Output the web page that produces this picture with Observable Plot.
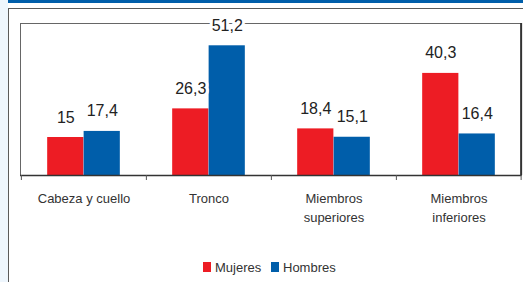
<!DOCTYPE html>
<html>
<head>
<meta charset="utf-8">
<script src="https://cdn.jsdelivr.net/npm/d3@7"></script>
<script src="https://cdn.jsdelivr.net/npm/@observablehq/plot@0.6"></script>
<style>
  html, body { margin: 0; padding: 0; background: white; }
  #wrap { position: relative; width: 523px; height: 282px; overflow: hidden; font-family: "Liberation Sans", Arial, Helvetica, sans-serif; background: white; }
  #strip { position: absolute; left: 0; top: 0; width: 8px; height: 282px; background: #eef6fd; }
  #band { position: absolute; left: 8px; top: 0; width: 515px; height: 3px; background: #005eaa; }
  #panel { position: absolute; left: 8px; top: 8px; width: 520px; height: 280px; border-left: 1.5px solid #5a5a5a; border-top: 1.5px solid #5a5a5a; }
  #chart { position: absolute; left: 0; top: 0; }
  #legend { position: absolute; left: 0; top: 259px; width: 523px; height: 16px; font-size: 13px; color: #333; }
  .item { position: absolute; top: 0; display: flex; align-items: center; height: 16px; }
  .sw { width: 8px; height: 10px; margin-right: 4px; display: inline-block; }
</style>
</head>
<body>
<div id="wrap">
  <div id="strip"></div>
  <div id="band"></div>
  <div id="panel"></div>
  <div id="chart"></div>
  <div id="legend"></div>
</div>
<script>
const categories = ["Cabeza y cuello", "Tronco", "Miembros superiores", "Miembros inferiores"];
const tickLabels = ["Cabeza y cuello", "Tronco", "Miembros\nsuperiores", "Miembros\ninferiores"];
const series = ["Mujeres", "Hombres"];
const colors = ["#ed1c24", "#005eaa"];
const mujeres = [15, 26.3, 18.4, 40.3];
const hombres = [17.4, 51.2, 15.1, 16.4];
const valueLabels = {
  Mujeres: ["15", "26,3", "18,4", "40,3"],
  Hombres: ["17,4", "51,2", "15,1", "16,4"]
};

const W = 523, H = 282;
const mL = 20, mR = 2, mT = 23, mB = 107;
const bw = (W - mL - mR) / categories.length;
const barW = bw * 0.291;

const rows = (vals, s) => vals.map((v, i) => ({cat: categories[i], value: v, series: s, label: valueLabels[s][i], tick: tickLabels[i]}));
const dM = rows(mujeres, "Mujeres");
const dH = rows(hombres, "Hombres");
const font = "Liberation Sans, Arial, Helvetica, sans-serif";

const chart = Plot.plot({
  width: W,
  height: H,
  marginLeft: mL,
  marginRight: mR,
  marginTop: mT,
  marginBottom: mB,
  style: {background: "transparent", fontFamily: font, overflow: "visible"},
  x: {domain: categories, padding: 0, axis: null},
  y: {domain: [0, 60], axis: null},
  marks: [
    Plot.frame({stroke: "#666", strokeWidth: 1}),
    Plot.barY(dM, {x: "cat", y: "value", fill: colors[0], insetLeft: bw / 2 - barW, insetRight: bw / 2}),
    Plot.barY(dH, {x: "cat", y: "value", fill: colors[1], insetLeft: bw / 2, insetRight: bw / 2 - barW}),
    Plot.ruleY([0], {stroke: "#333", strokeWidth: 1.5}),
    Plot.ruleX([categories[categories.length - 1]], {dx: bw / 2 - 0.5, stroke: "#333", strokeWidth: 2}),
    Plot.ruleX(categories, {y1: 0, y2: 0, insetBottom: -5, dx: -bw / 2, stroke: "#555", strokeWidth: 1}),
    Plot.ruleX([categories[categories.length - 1]], {y1: 0, y2: 0, insetBottom: -5, dx: bw / 2 - 0.5, stroke: "#555", strokeWidth: 1}),
    Plot.text(dM, {x: "cat", y: "value", text: "label", dx: -barW / 2, dy: -15, lineAnchor: "bottom", fontSize: 16, fill: "#222", stroke: "white", strokeWidth: 6}),
    Plot.text(dH, {x: "cat", y: "value", text: "label", dx: barW / 2, dy: -15, lineAnchor: "bottom", fontSize: 16, fill: "#222", stroke: "white", strokeWidth: 6}),
    Plot.text(dM, {x: "cat", y: 0, text: "tick", dy: 15, lineAnchor: "top", fontSize: 13, lineHeight: 1.4, fill: "#333"})
  ]
});
document.getElementById("chart").appendChild(chart);

// legend
const legend = document.getElementById("legend");
const lefts = [203, 271];
series.forEach((s, i) => {
  const item = document.createElement("div");
  item.className = "item";
  item.style.left = lefts[i] + "px";
  const sw = document.createElement("span");
  sw.className = "sw";
  sw.style.background = colors[i];
  const t = document.createElement("span");
  t.textContent = s;
  item.appendChild(sw);
  item.appendChild(t);
  legend.appendChild(item);
});
</script>
</body>
</html>
